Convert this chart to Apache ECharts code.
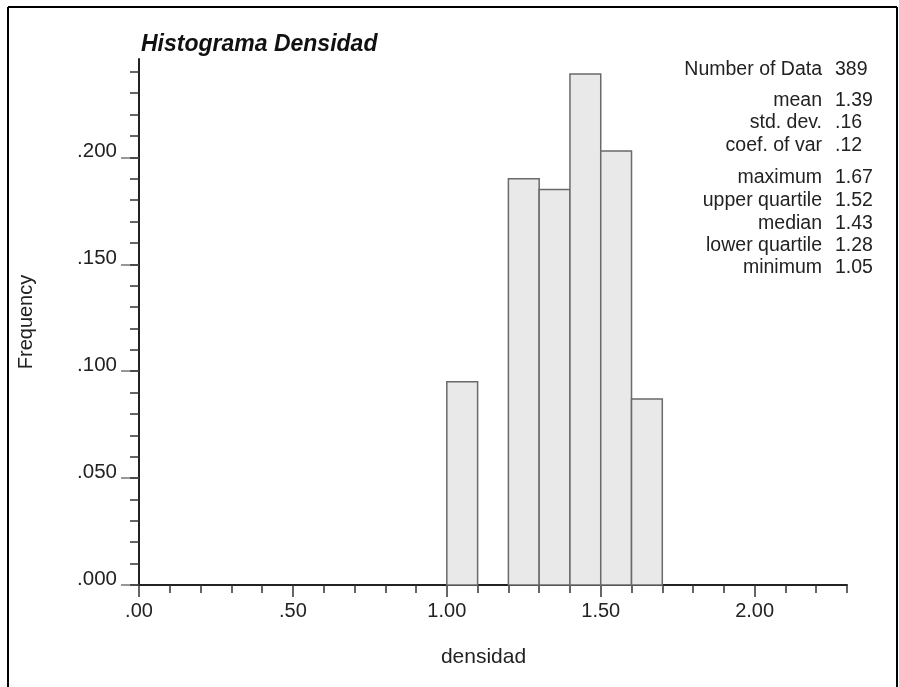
<!DOCTYPE html>
<html>
<head>
<meta charset="utf-8">
<script src="https://cdn.jsdelivr.net/npm/echarts@6/dist/echarts.min.js"></script>
<style>
html,body{margin:0;padding:0;background:#fff;}
#chart{width:899px;height:687px;}
</style>
</head>
<body>
<div id="chart"></div>
<script>
// ---- data ----
var binStarts = [1.0, 1.1, 1.2, 1.3, 1.4, 1.5, 1.6];
var binWidth = 0.1;
var frequencies = [0.095, 0.0, 0.190, 0.185, 0.239, 0.203, 0.087];
var xTickLabels = [0, 0.5, 1.0, 1.5, 2.0];
var yTickLabels = [0, 0.05, 0.10, 0.15, 0.20];
var statLabels = ['Number of Data', 'mean', 'std. dev.', 'coef. of var', 'maximum', 'upper quartile', 'median', 'lower quartile', 'minimum'];
var statValues = ['389', '1.39', '.16', '.12', '1.67', '1.52', '1.43', '1.28', '1.05'];
var titleText = 'Histograma Densidad';
var xName = 'densidad';
var yName = 'Frequency';

// ---- helpers ----
var xMin = 0, xMax = 2.3, yMin = 0, yMax = 0.246;
function steps(lo, hi, st) {
  var out = [];
  for (var i = 0; lo + i * st <= hi + 1e-9; i++) out.push(+(lo + i * st).toFixed(4));
  return out;
}
var xMinor = steps(0, 2.3, 0.1);
var yMinor = steps(0, 0.24, 0.01);
var fmtX = function (v) { return v.toFixed(2).replace(/^0/, ''); };
var fmtY = function (v) { return v.toFixed(3).replace(/^0/, ''); };

var barData = binStarts.map(function (s, i) { return [s, s + binWidth, frequencies[i]]; });

var FONT = 'Liberation Sans, Arial, Helvetica, sans-serif';

// stats graphics
var rowY = [69.5, 101, 123, 146, 178, 201, 223.5, 246, 268];
var graphics = [];
statLabels.forEach(function (lab, i) {
  graphics.push({ type: 'text', x: 822, y: rowY[i], style: { text: lab, font: '19.5px ' + FONT, fill: '#222', align: 'right', verticalAlign: 'middle' } });
  graphics.push({ type: 'text', x: 835, y: rowY[i], style: { text: statValues[i], font: '19.5px ' + FONT, fill: '#222', align: 'left', verticalAlign: 'middle' } });
});
graphics.push({ type: 'text', x: 141, y: 45, style: { text: titleText, font: 'italic bold 23px ' + FONT, fill: '#111', align: 'left', verticalAlign: 'middle' } });
graphics.push({ type: 'text', x: 483.5, y: 657, style: { text: xName, font: '21px ' + FONT, fill: '#222', align: 'center', verticalAlign: 'middle' } });
graphics.push({ type: 'text', x: 26, y: 322, rotation: Math.PI / 2, style: { text: yName, font: '20px ' + FONT, fill: '#222', align: 'center', verticalAlign: 'middle' } });
// frame
graphics.push({ type: 'line', shape: { x1: 8, y1: 7, x2: 897, y2: 7 }, style: { stroke: '#000', lineWidth: 2 } });
graphics.push({ type: 'line', shape: { x1: 8, y1: 7, x2: 8, y2: 687 }, style: { stroke: '#000', lineWidth: 2 } });
graphics.push({ type: 'line', shape: { x1: 897, y1: 7, x2: 897, y2: 687 }, style: { stroke: '#000', lineWidth: 2 } });

var chart = echarts.init(document.getElementById('chart'), null, { renderer: 'canvas' });
var option = {
  animation: false,
  backgroundColor: '#fff',
  grid: { left: 139, right: 52, top: 59, bottom: 102, containLabel: false },
  xAxis: [
    {
      type: 'value', min: xMin, max: xMax, position: 'bottom',
      axisLine: { show: true, lineStyle: { color: '#222', width: 2 } },
      axisTick: { show: true, customValues: xTickLabels, length: 12, lineStyle: { color: '#333', width: 1.5 } },
      axisLabel: { show: true, customValues: xTickLabels, formatter: fmtX, margin: 16, fontSize: 20, fontFamily: FONT, color: '#222' },
      splitLine: { show: false }
    },
    {
      type: 'value', min: xMin, max: xMax, position: 'bottom', offset: 0,
      axisLine: { show: false },
      axisTick: { show: true, customValues: xMinor, length: 8, lineStyle: { color: '#333', width: 1.5 } },
      axisLabel: { show: false },
      splitLine: { show: false }
    }
  ],
  yAxis: [
    {
      type: 'value', min: yMin, max: yMax, position: 'left',
      axisLine: { show: true, lineStyle: { color: '#222', width: 2 } },
      axisTick: { show: true, customValues: yTickLabels, length: 18, lineStyle: { color: '#777', width: 1.5 } },
      axisLabel: { show: true, customValues: yTickLabels, formatter: fmtY, margin: 22, fontSize: 20.5, fontFamily: FONT, color: '#222', verticalAlign: 'bottom', lineHeight: 12 },
      splitLine: { show: false }
    },
    {
      type: 'value', min: yMin, max: yMax, position: 'left', offset: 0,
      axisLine: { show: false },
      axisTick: { show: true, customValues: yMinor, length: 9, lineStyle: { color: '#333', width: 1.5 } },
      axisLabel: { show: false },
      splitLine: { show: false }
    }
  ],
  series: [{
    type: 'custom',
    xAxisIndex: 0, yAxisIndex: 0,
    data: barData,
    renderItem: function (params, api) {
      var f = api.value(2);
      if (!(f > 0)) return null;
      var p0 = api.coord([api.value(0), f]);
      var p1 = api.coord([api.value(1), 0]);
      return {
        type: 'rect',
        shape: { x: p0[0], y: p0[1], width: p1[0] - p0[0], height: p1[1] - p0[1] },
        style: { fill: '#e9e9e9', stroke: '#6a6a6a', lineWidth: 1.5 }
      };
    },
    z: 1
  }],
  graphic: graphics
};
chart.setOption(option);
</script>
</body>
</html>
